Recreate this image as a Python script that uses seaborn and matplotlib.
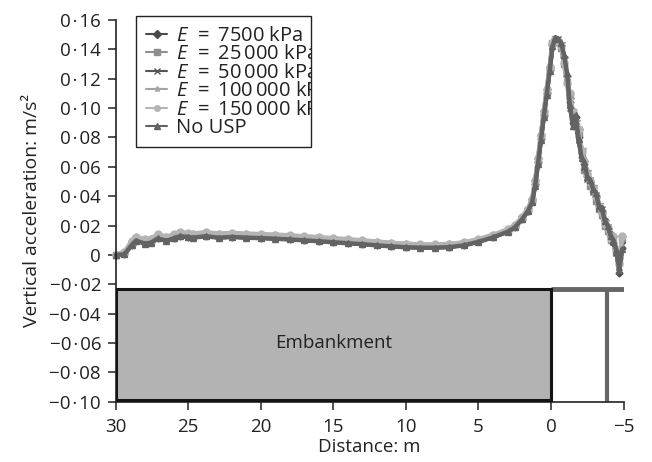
import matplotlib
matplotlib.use("Agg")
import matplotlib.pyplot as plt
from matplotlib.patches import Rectangle
from matplotlib.transforms import Bbox, TransformedBbox
from matplotlib.ticker import FuncFormatter, FixedLocator
import seaborn as sns
import pandas as pd

# ---------------- data ----------------
distance = [30, 29.4, 28.9, 28.6, 28.0, 27.6, 27.1, 26.5, 26.0, 25.6,
            25.0, 24.7, 23.8, 22.9, 22.0, 21.0, 20.0, 19.0, 18.0, 17.0,
            16.0, 15.0, 14.0, 13.0, 12.0, 11.0, 10.0, 9.0, 8.0, 7.0,
            6.0, 5.0, 4.0, 3.0, 2.5, 2.0, 1.6, 1.3, 1.1, 0.9,
            0.7, 0.5, 0.3, 0.1, -0.1, -0.3, -0.5, -0.7, -0.9, -1.1,
            -1.3, -1.5, -1.7, -1.9, -2.1, -2.3, -2.5, -2.7, -2.9, -3.1,
            -3.3, -3.5, -3.7, -3.9, -4.1, -4.3, -4.5, -4.7, -4.9]

e7500 = [0.000, 0.0005, 0.007, 0.010, 0.008, 0.0085, 0.0115, 0.010, 0.0115, 0.013,
         0.0125, 0.012, 0.013, 0.012, 0.0125, 0.012, 0.0117, 0.0113, 0.0108, 0.0102,
         0.0096, 0.0089, 0.0082, 0.0076, 0.0068, 0.0061, 0.0055, 0.0052, 0.0052, 0.0056,
         0.0068, 0.0092, 0.0122, 0.016, 0.019, 0.0245, 0.030, 0.0364, 0.048, 0.063,
         0.079, 0.095, 0.110, 0.126, 0.143, 0.147, 0.146, 0.143, 0.135, 0.122,
         0.104, 0.090, 0.094, 0.080, 0.067, 0.062, 0.054, 0.050, 0.046, 0.040,
         0.034, 0.030, 0.024, 0.018, 0.014, 0.008, 0.004, -0.012, 0.005]

e25000 = [0.000, 0.001, 0.008, 0.011, 0.009, 0.0095, 0.0125, 0.011, 0.0125, 0.014,
          0.0135, 0.013, 0.014, 0.013, 0.0135, 0.013, 0.0127, 0.0123, 0.0118, 0.0112,
          0.0106, 0.0099, 0.0092, 0.0085, 0.0077, 0.0069, 0.0063, 0.0059, 0.0059, 0.0063,
          0.0075, 0.0098, 0.0128, 0.0165, 0.0195, 0.025, 0.0305, 0.037, 0.049, 0.064,
          0.080, 0.096, 0.111, 0.127, 0.144, 0.147, 0.145, 0.141, 0.130, 0.118,
          0.108, 0.094, 0.088, 0.083, 0.070, 0.058, 0.056, 0.047, 0.044, 0.037,
          0.031, 0.027, 0.020, 0.016, 0.010, 0.011, 0.002, -0.005, 0.010]

e50000 = [0.000, 0.0005, 0.007, 0.010, 0.008, 0.0085, 0.0115, 0.010, 0.0115, 0.013,
          0.0125, 0.012, 0.013, 0.012, 0.0125, 0.012, 0.0117, 0.0113, 0.0108, 0.0102,
          0.0096, 0.0089, 0.0082, 0.0076, 0.0068, 0.0061, 0.0055, 0.0052, 0.0052, 0.0056,
          0.0068, 0.0092, 0.0122, 0.016, 0.019, 0.0245, 0.030, 0.0364, 0.048, 0.063,
          0.079, 0.095, 0.110, 0.126, 0.142, 0.146, 0.147, 0.142, 0.133, 0.120,
          0.100, 0.092, 0.090, 0.078, 0.069, 0.060, 0.052, 0.051, 0.043, 0.041,
          0.032, 0.031, 0.022, 0.019, 0.012, 0.009, 0.001, -0.008, 0.007]

e100000 = [0.000, 0.0015, 0.009, 0.012, 0.010, 0.0105, 0.0135, 0.012, 0.0135, 0.015,
           0.0145, 0.014, 0.015, 0.014, 0.0145, 0.014, 0.0137, 0.0133, 0.0128, 0.0122,
           0.0116, 0.0109, 0.0102, 0.0095, 0.0087, 0.0079, 0.0072, 0.0068, 0.0067, 0.0071,
           0.0082, 0.0104, 0.0133, 0.0170, 0.0200, 0.0255, 0.031, 0.0375, 0.050, 0.065,
           0.081, 0.097, 0.112, 0.127, 0.143, 0.146, 0.146, 0.144, 0.134, 0.121,
           0.106, 0.096, 0.091, 0.085, 0.072, 0.063, 0.057, 0.049, 0.047, 0.039,
           0.035, 0.028, 0.023, 0.017, 0.013, 0.012, 0.004, -0.003, 0.012]

e150000 = [0.000, 0.002, 0.0095, 0.0125, 0.0105, 0.011, 0.014, 0.0125, 0.014, 0.0155,
           0.015, 0.0145, 0.0155, 0.0145, 0.015, 0.0145, 0.0142, 0.0138, 0.0133, 0.0127,
           0.0121, 0.0114, 0.0107, 0.0099, 0.0091, 0.0083, 0.0076, 0.0072, 0.0071, 0.0075,
           0.0086, 0.0108, 0.0137, 0.0174, 0.0204, 0.0258, 0.0315, 0.038, 0.051, 0.066,
           0.082, 0.098, 0.113, 0.128, 0.144, 0.147, 0.146, 0.142, 0.131, 0.117,
           0.110, 0.098, 0.087, 0.086, 0.071, 0.064, 0.055, 0.050, 0.045, 0.040,
           0.033, 0.029, 0.021, 0.018, 0.011, 0.013, 0.003, -0.006, 0.013]

no_usp = [0.000, 0.0003, 0.0067, 0.0097, 0.0077, 0.0082, 0.0112, 0.0097, 0.0112, 0.0127,
          0.0122, 0.0117, 0.0127, 0.0117, 0.0122, 0.0117, 0.0114, 0.011, 0.0105, 0.0099,
          0.0093, 0.0086, 0.0079, 0.0073, 0.0065, 0.0058, 0.0052, 0.0049, 0.0049, 0.0053,
          0.0065, 0.0089, 0.0119, 0.0157, 0.0187, 0.0242, 0.0297, 0.036, 0.047, 0.062,
          0.078, 0.094, 0.109, 0.125, 0.142, 0.148, 0.147, 0.144, 0.136, 0.124,
          0.102, 0.088, 0.095, 0.079, 0.066, 0.063, 0.053, 0.051, 0.045, 0.042,
          0.033, 0.032, 0.023, 0.020, 0.013, 0.010, 0.003, -0.010, 0.004]

E_PREFIX = r"$\mathit{E}\;\,=\;$"
series_labels = [E_PREFIX + "7500 kPa",
                 E_PREFIX + "25\u2009000 kPa",
                 E_PREFIX + "50\u2009000 kPa",
                 E_PREFIX + "100\u2009000 kPa",
                 E_PREFIX + "150\u2009000 kPa",
                 "No USP"]
series_values = [e7500, e25000, e50000, e100000, e150000, no_usp]

x_ticks = [30, 25, 20, 15, 10, 5, 0, -5]
y_ticks = [0.16, 0.14, 0.12, 0.10, 0.08, 0.06, 0.04, 0.02, 0, -0.02, -0.04, -0.06, -0.08, -0.10]

# embankment sketch geometry
emb_x = (0, 30)
emb_y = (-0.0988, -0.0233)
rail_x = (0, -5)
post_x = -3.84

# ---------------- style ----------------
sns.set_theme(style="ticks")
plt.rcParams["font.family"] = ["Open Sans", "DejaVu Sans"]
plt.rcParams["mathtext.fontset"] = "custom"
plt.rcParams["mathtext.it"] = "Open Sans:italic"
plt.rcParams["mathtext.rm"] = "Open Sans"
plt.rcParams["axes.unicode_minus"] = True

TXT = "#222222"
colors = ["#4a4a4a", "#8e8e8e", "#555555", "#a3a3a3", "#b4b4b4", "#636363"]
markers = ["D", "s", "x", "*", "o", "^"]
msizes = [3.5, 5, 5, 6, 5, 5]

W, H = 652, 462
fig = plt.figure(figsize=(W / 100, H / 100), dpi=100)
ax = fig.add_axes([115.7 / W, 1 - 401.7 / H, (623.6 - 115.7) / W, (401.7 - 20) / H])

for lab, vals, c, m, ms in zip(series_labels, series_values, colors, markers, msizes):
    df = pd.DataFrame({"Distance": distance, "Acc": vals})
    sns.lineplot(data=df, x="Distance", y="Acc", ax=ax, color=c, marker=m,
                 markersize=ms, markeredgecolor=c, markeredgewidth=1.0,
                 linewidth=3.2, label=lab, sort=False, clip_on=False)

# embankment
ax.add_patch(Rectangle((emb_x[0], emb_y[0]), emb_x[1] - emb_x[0], emb_y[1] - emb_y[0],
                       facecolor="#b3b3b3", edgecolor="#151515", linewidth=2.2, zorder=3))
ax.plot(rail_x, [emb_y[1], emb_y[1]], color="#666666", linewidth=3.5,
        solid_capstyle="butt", zorder=2)
ax.plot([post_x, post_x], [emb_y[1], -0.10], color="#666666", linewidth=3.0,
        solid_capstyle="butt", zorder=2)
ax.text(15, -0.06, "Embankment", ha="center", va="center", fontsize=13.5, color=TXT)

ax.set_xlim(30, -5)
ax.set_ylim(-0.10, 0.16)
ax.xaxis.set_major_locator(FixedLocator(x_ticks))
ax.yaxis.set_major_locator(FixedLocator(y_ticks))


def yfmt(v, pos):
    if abs(v) < 1e-9:
        return "0"
    s = f"{abs(v):.2f}".replace(".", "\u200a\u00b7\u200a")
    return ("\u2212" if v < 0 else "") + s


def xfmt(v, pos):
    return ("\u2212" if v < 0 else "") + f"{abs(v):g}"


ax.yaxis.set_major_formatter(FuncFormatter(yfmt))
ax.xaxis.set_major_formatter(FuncFormatter(xfmt))

for s in ["top", "right"]:
    ax.spines[s].set_visible(False)
for s in ["left", "bottom"]:
    ax.spines[s].set_color(TXT)
    ax.spines[s].set_linewidth(1.2)
ax.tick_params(axis="both", direction="out", length=5.5, width=1.1, color=TXT,
               labelsize=13.5, labelcolor=TXT)
ax.tick_params(axis="x", pad=6)
ax.tick_params(axis="y", pad=5)

ax.set_xlabel("Distance: m", fontsize=13.5, color=TXT, labelpad=2)
ylab = ax.set_ylabel("Vertical acceleration: m/s\u00b2", fontsize=13.5, color=TXT, labelpad=6)

# legend: drawn without its own frame, framed by a fixed box that also clips the text
box_x0, box_x1, box_y0, box_y1 = 136, 311, 16, 147
leg = ax.legend(loc="upper left", bbox_to_anchor=(box_x0 / W, 1 - box_y0 / H),
                bbox_transform=fig.transFigure, borderaxespad=0, frameon=False,
                fontsize=14.5, labelspacing=-0.08, handlelength=1.05,
                handletextpad=0.45, borderpad=0.5)
for h in leg.get_lines():
    h.set_linewidth(1.5)
    h.set_markersize(4)
clip = TransformedBbox(Bbox([[box_x0 / W, 1 - box_y1 / H], [box_x1 / W, 1 - box_y0 / H]]),
                       fig.transFigure)
for t in leg.get_texts():
    t.set_color(TXT)
    t.set_clip_box(clip)
    t.set_clip_on(True)
fig.patches.append(Rectangle((box_x0 / W, 1 - box_y1 / H), (box_x1 - box_x0) / W,
                             (box_y1 - box_y0) / H, transform=fig.transFigure,
                             fill=False, edgecolor=TXT, linewidth=1.0, zorder=5))

# fit the y-axis title to the length it has in the reference (about 233 px)
fig.canvas.draw()
r = fig.canvas.get_renderer()
ext = ylab.get_window_extent(r)
ylab.set_fontsize(13.5 * 233.0 / ext.height)

fig.savefig("out.png", dpi=100)
